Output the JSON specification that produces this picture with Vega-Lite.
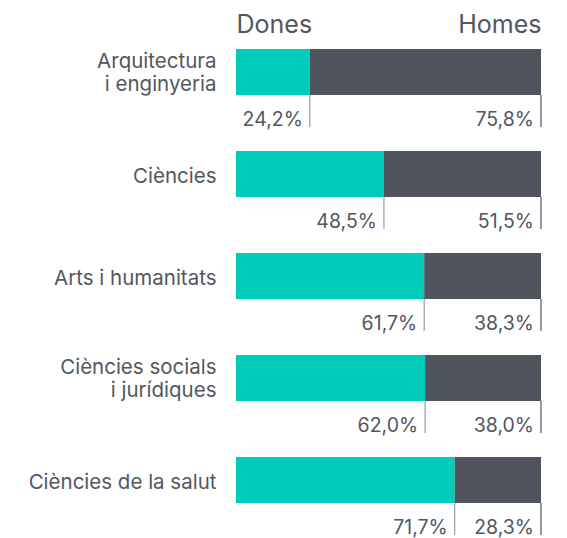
{
  "$schema": "https://vega.github.io/schema/vega-lite/v6.json",
  "autosize": {"type": "none"},
  "width": 305,
  "height": 510,
  "padding": {"left": 236, "top": 21, "right": 26, "bottom": 7},
  "background": "white",
  "config": {
    "view": {"stroke": null},
    "font": "Inter",
    "locale": {"number": {"decimal": ",", "thousands": ".", "grouping": [3], "currency": ["", " €"]}}
  },
  "data": {
    "values": [
      {"area": "Arquitectura\ni enginyeria", "genere": "Dones", "pct": 0.242},
      {"area": "Arquitectura\ni enginyeria", "genere": "Homes", "pct": 0.758},
      {"area": "Ciències", "genere": "Dones", "pct": 0.485},
      {"area": "Ciències", "genere": "Homes", "pct": 0.515},
      {"area": "Arts i humanitats", "genere": "Dones", "pct": 0.617},
      {"area": "Arts i humanitats", "genere": "Homes", "pct": 0.383},
      {"area": "Ciències socials\ni jurídiques", "genere": "Dones", "pct": 0.620},
      {"area": "Ciències socials\ni jurídiques", "genere": "Homes", "pct": 0.380},
      {"area": "Ciències de la salut", "genere": "Dones", "pct": 0.717},
      {"area": "Ciències de la salut", "genere": "Homes", "pct": 0.283}
    ]
  },
  "layer": [
    {
      "mark": {"type": "bar", "height": 46},
      "encoding": {
        "y": {
          "field": "area",
          "type": "nominal",
          "sort": null,
          "scale": {"paddingInner": 0, "paddingOuter": 0},
          "axis": {
            "title": null,
            "domain": false,
            "ticks": false,
            "labelPadding": 20,
            "labelLimit": 0,
            "labelFontSize": 20.5,
            "labelColor": "#53565f",
            "labelLineHeight": 23,
            "labelOffset": {"condition": {"test": "indexof(datum.label, '\\n') >= 0", "value": -10}, "value": 3},
            "labelExpr": "split(datum.label, '\\n')"
          }
        },
        "x": {
          "field": "pct",
          "type": "quantitative",
          "stack": "zero",
          "scale": {"domain": [0, 1], "nice": false},
          "axis": {
            "orient": "top",
            "title": null,
            "domain": false,
            "ticks": false,
            "tickSize": 0,
            "grid": false,
            "values": [0, 1],
            "labelFlush": true,
            "labelExpr": "datum.value == 0 ? 'Dones' : 'Homes'",
            "labelFontSize": 25,
            "labelColor": "#53565f",
            "labelBaseline": "alphabetic",
            "labelPadding": -11
          }
        },
        "color": {
          "field": "genere",
          "type": "nominal",
          "scale": {"domain": ["Dones", "Homes"], "range": ["#00CCBB", "#50545C"]},
          "legend": null
        },
        "order": {"field": "genere"}
      }
    },
    {
      "mark": {"type": "rule", "strokeWidth": 1.2},
      "encoding": {
        "y": {"field": "area", "type": "nominal", "sort": null, "bandPosition": 0.725},
        "y2": {"field": "area", "bandPosition": 1.04},
        "x": {"field": "pct", "type": "quantitative", "stack": "zero"},
        "detail": {"field": "genere"},
        "order": {"field": "genere"},
        "color": {"condition": {"test": "datum.genere == 'Dones'", "value": "#9a9ca1"}, "value": "#50545C"}
      }
    },
    {
      "mark": {"type": "text", "align": "right", "baseline": "alphabetic", "dx": -7, "fontSize": 19.5, "color": "#53565f"},
      "encoding": {
        "y": {"field": "area", "type": "nominal", "sort": null, "bandPosition": 1.03},
        "x": {"field": "pct", "type": "quantitative", "stack": "zero"},
        "detail": {"field": "genere"},
        "order": {"field": "genere"},
        "text": {"field": "pct", "type": "quantitative", "format": ".1%"}
      }
    }
  ]
}
